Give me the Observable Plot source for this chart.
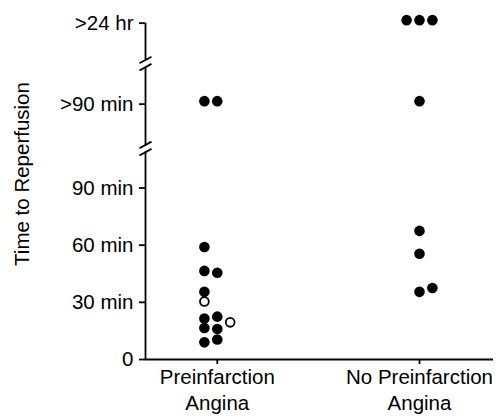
<!DOCTYPE html>
<html>
<head>
<meta charset="utf-8">
<script src="https://cdn.jsdelivr.net/npm/d3@7"></script>
<script src="https://cdn.jsdelivr.net/npm/@observablehq/plot@0.6"></script>
<style>
  html, body { margin: 0; padding: 0; background: #fff; }
</style>
</head>
<body>
<div id="chart"></div>
<script>
// ---- data ----
const categories = ["Preinfarction\nAngina", "No Preinfarction\nAngina"];
const minuteTicks = [0, 30, 60, 90];
const minuteTickLabels = ["0", "30 min", "60 min", "90 min"];
const overflowLevels = [">90 min", ">24 hr"];
const overflowLevelPos = [134, 176.5];   // where each overflow band sits on the (broken) axis
const breakPoints = [110.7, 155.3];      // axis breaks

// Preinfarction angina: filled dots (minutes or overflow level) and column slot
const preValues = [59, 46.5, 45.5, 35.5, 21.5, 22.5, 16.5, 16, 9, 10.5, ">90 min", ">90 min"];
const preSlots  = [-1, -1, 0, -1, -1, 0, -1, 0, -1, 0, -1, 0];
// Preinfarction angina: open dots
const preOpenValues = [30.5, 19.5];
const preOpenSlots  = [-1, 1];
// No preinfarction angina: filled dots
const noPreValues = [">24 hr", ">24 hr", ">24 hr", ">90 min", 67.5, 55.5, 35.5, 37.5];
const noPreSlots  = [-1, 0, 1, 0, 0, 0, 0, 1];

// ---- layout ----
const W = 496, H = 416;
const mL = 145, mR = 3, mT = 16, mB = 57;
const xDomain = [-0.355, 1.366];
const yDomain = [0, 180];
const pxX = (xDomain[1] - xDomain[0]) / (W - mL - mR);
const pxY = (yDomain[1] - yDomain[0]) / (H - mT - mB);
const slotW = 12.9 * pxX;

const levelPos = new Map(overflowLevels.map((l, i) => [l, overflowLevelPos[i]]));
function rows(values, slots, cat, open) {
  return values.map((v, i) => ({
    cat, slot: slots[i], open,
    overflow: typeof v === "string",
    pos: typeof v === "string" ? levelPos.get(v) : v
  }));
}
const filled = [...rows(preValues, preSlots, 0, false), ...rows(noPreValues, noPreSlots, 1, false)];
const hollow = rows(preOpenValues, preOpenSlots, 0, true);
const xOf = d => d.cat + d.slot * slotW;

const yTicks = [...minuteTicks, ...overflowLevelPos];
const yLabelMap = new Map(yTicks.map((t, i) => [t, [...minuteTickLabels, ...overflowLevels][i]]));

const gap = 3.6 * pxY;
const axisSegments = [
  {y1: 0, y2: breakPoints[0] - gap},
  {y1: breakPoints[0] + gap, y2: breakPoints[1] - gap},
  {y1: breakPoints[1] + gap, y2: overflowLevelPos[1]}
];
const slashes = breakPoints.flatMap(b => [-1, 1].map(s => ({
  x1: xDomain[0] - 6 * pxX, y1: b + s * gap - 3.3 * pxY,
  x2: xDomain[0] + 6 * pxX, y2: b + s * gap + 3.3 * pxY
})));

const font = "'Liberation Sans', Arial, Helvetica, sans-serif";
const chart = Plot.plot({
  width: W, height: H,
  marginLeft: mL, marginRight: mR, marginTop: mT, marginBottom: mB,
  x: {type: "linear", domain: xDomain},
  y: {type: "linear", domain: yDomain},
  style: {fontFamily: font, fontSize: "20.5px", color: "#000", background: "#fff", overflow: "visible"},
  marks: [
    Plot.axisY({ticks: yTicks, tickFormat: d => yLabelMap.get(d), tickSize: 6, tickPadding: 6,
      strokeWidth: 1.8, label: null, fontSize: 20.5}),
    Plot.axisX({ticks: [0, 1], tickSize: 5, tickFormat: () => "", strokeWidth: 1.8, label: null}),
    Plot.axisX({ticks: [0, 1], tickFormat: i => categories[i], tickSize: 0, tickPadding: 10, dy: -4,
      lineHeight: 1.28, label: null, fontSize: 20.5}),
    Plot.ruleY([0], {strokeWidth: 1.8}),
    Plot.ruleX(axisSegments, {x: xDomain[0], y1: "y1", y2: "y2", strokeWidth: 1.8}),
    Plot.link(slashes, {x1: "x1", y1: "y1", x2: "x2", y2: "y2", strokeWidth: 1.8, stroke: "#000"}),
    Plot.text(["Time to Reperfusion"], {frameAnchor: "left", textAnchor: "middle", lineAnchor: "middle",
      dx: -123, dy: -14, rotate: -90, fontSize: 20.5, fill: "#000"}),
    Plot.dot(filled.filter(d => !d.overflow), {x: xOf, y: "pos", r: 5.3, fill: "#000", stroke: "none"}),
    Plot.dot(filled.filter(d => d.overflow), {x: xOf, y: "pos", r: 5.3, fill: "#000", stroke: "none", dy: -3}),
    Plot.dot(hollow, {x: xOf, y: "pos", r: 4.4, fill: "#fff", stroke: "#000", strokeWidth: 1.8})
  ]
});
document.getElementById("chart").appendChild(chart);
</script>
</body>
</html>
